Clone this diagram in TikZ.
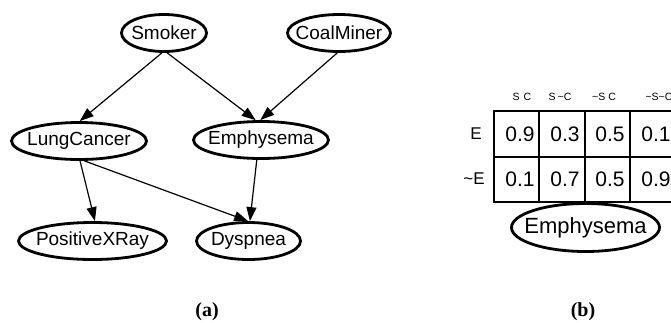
\documentclass[tikz,border=0pt]{standalone}
\usepackage{fontspec}
\setmainfont{Liberation Sans}
\newfontfamily\capfont{Liberation Serif}
\usetikzlibrary{shapes.geometric,arrows.meta}

\tikzset{
  bnode/.style={ellipse, draw, line width=2.8pt, minimum height=37pt, inner sep=0pt,
    label={[font=\fontsize{19}{21}\selectfont]center:#1}},
  edge/.style={line width=1.2pt, -{Triangle[length=14pt,width=10pt]}},
  cell/.style={font=\fontsize{21}{23}\selectfont, inner sep=0pt},
  rowlab/.style={font=\fontsize{17}{19}\selectfont, inner sep=0pt},
  collab/.style={font=\fontsize{10.5}{12}\selectfont, inner sep=0pt},
  caption/.style={font=\capfont\bfseries\fontsize{20}{22}\selectfont, inner sep=0pt}
}

\begin{document}
\begin{tikzpicture}[x=1pt, y=-1pt]
\useasboundingbox (0,0) rectangle (671,322);
\clip (0,0) rectangle (671,322);

% (a) the Bayesian network
\node[bnode=Smoker, minimum width=85pt] (smoker) at (164,33) {};
\node[bnode=CoalMiner, minimum width=103pt] (coal) at (339,33) {};
\node[bnode=LungCancer, minimum width=135pt] (lung) at (79,141) {};
\node[bnode=Emphysema, minimum width=135pt] (emph) at (261,140) {};
\node[bnode=PositiveXRay, minimum width=148pt] (xray) at (92.5,241) {};
\node[bnode=Dyspnea, minimum width=104pt] (dysp) at (248.5,241) {};

\draw[edge] (smoker.264) -- (lung.88);
\draw[edge] (smoker.279) -- (emph.105);
\draw[edge] (coal.265) -- (emph.92);
\draw[edge] (lung.273) -- (xray.83);
\draw[edge] (lung.285) -- (dysp.91);
\draw[edge] (emph.258) -- (dysp.86);

\node[caption] (capa) at (207,312) {(a)};

% (b) conditional probability table of Emphysema
\draw[line width=1.4pt] (676,111) -- (494,111) -- (494,202) -- (676,202);
\draw[line width=1.4pt] (494,157) -- (676,157);
\foreach \cx in {539,585,630}
  \draw[line width=1.4pt] (\cx,111) -- (\cx,202);

\node[collab] (h1) at (522,97) {S\hspace{4pt}C};
\node[collab] (h2) at (560,97) {S\hspace{2pt}\textasciitilde C};
\node[collab] (h3) at (604,97) {\textasciitilde S\hspace{3pt}C};
\node[collab] (h4) at (659,97) {\textasciitilde S\textasciitilde C};

\node[rowlab] (rE) at (476,134) {E};
\node[rowlab] (rnE) at (474,179) {\textasciitilde E};

\node[cell] (c11) at (520,134) {0.9};
\node[cell] (c12) at (565,134) {0.3};
\node[cell] (c13) at (610,134) {0.5};
\node[cell] (c14) at (656,134) {0.1};
\node[cell] (c21) at (520,179) {0.1};
\node[cell] (c22) at (565,179) {0.7};
\node[cell] (c23) at (610,179) {0.5};
\node[cell] (c24) at (656,179) {0.9};

\node[ellipse, draw, line width=2.8pt, inner sep=0pt, minimum width=148pt, minimum height=48pt,
  label={[font=\fontsize{22}{24}\selectfont]center:Emphysema}] (emphb) at (585.5,227.5) {};

\node[caption] (capb) at (583,312) {(b)};
\end{tikzpicture}
\end{document}
